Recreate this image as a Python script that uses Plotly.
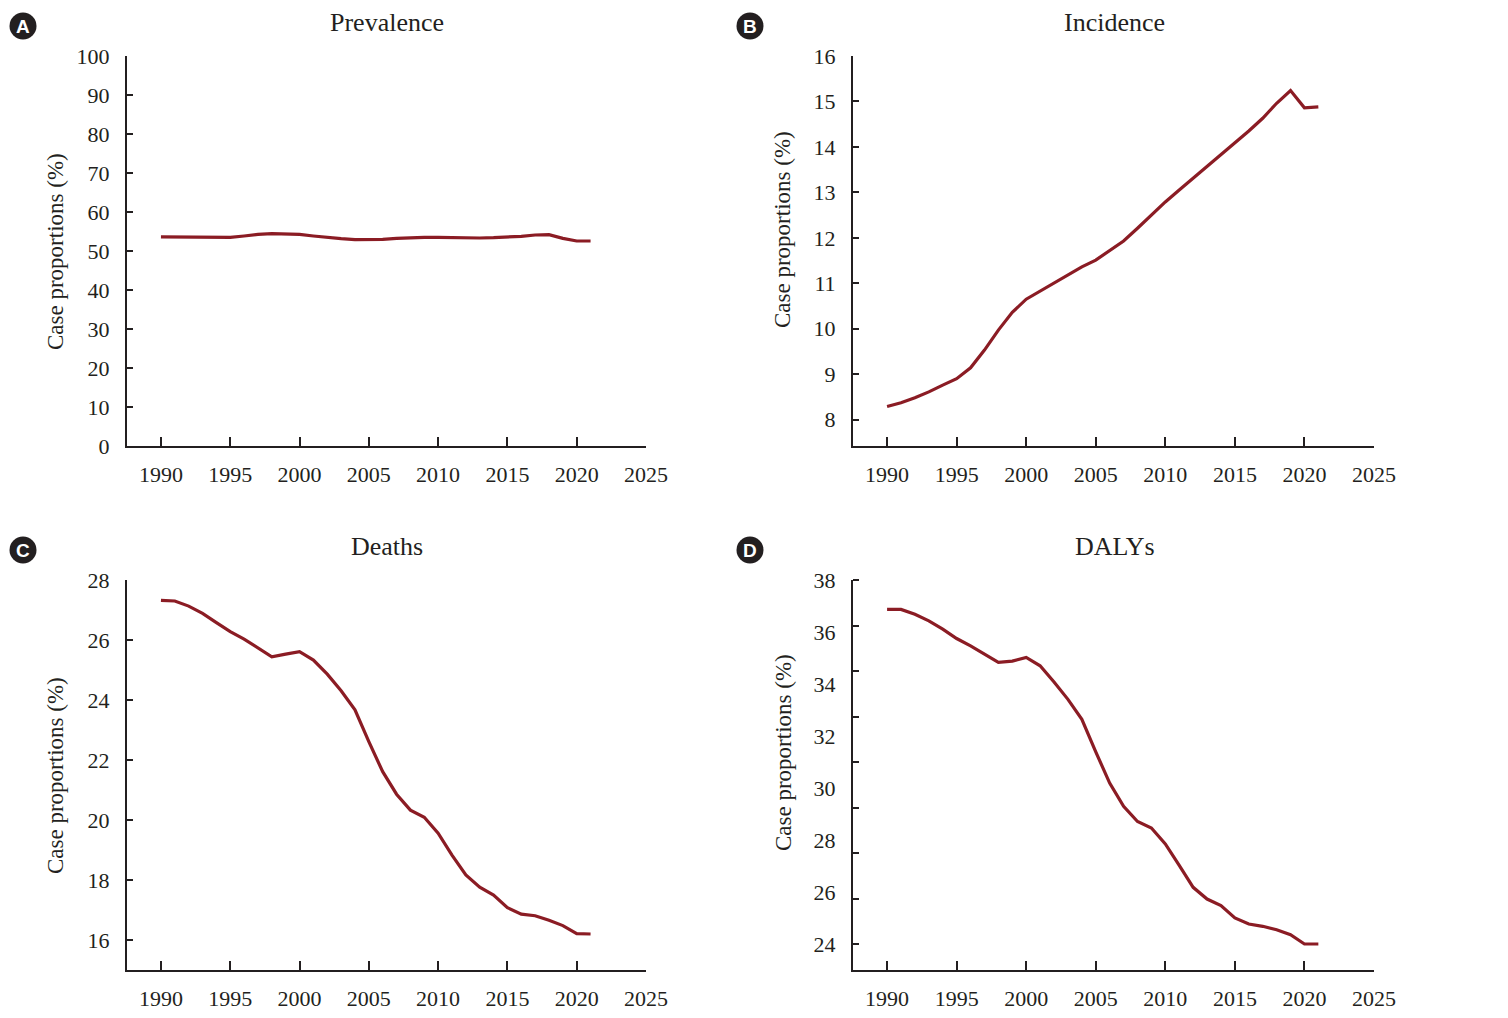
import plotly.graph_objects as go

# the page adds an 8 px body margin, so the figure is drawn 16 px smaller
OFF = 8
W, H = 1508 - 2 * OFF, 1018 - 2 * OFF

years = list(range(1990, 2022))

prevalence = [53.6, 53.6, 53.6, 53.5, 53.5, 53.5, 53.85, 54.27, 54.44, 54.44,
              54.27, 53.85, 53.42, 53.16, 52.91, 52.91, 52.99, 53.25, 53.42, 53.5,
              53.5, 53.42, 53.42, 53.33, 53.42, 53.5, 53.76, 54.1, 54.19, 53.25,
              52.56, 52.56]

incidence = [8.29, 8.37, 8.48, 8.61, 8.76, 8.90, 9.14, 9.53, 9.97, 10.36,
             10.65, 10.83, 11.01, 11.19, 11.36, 11.51, 11.71, 11.93, 12.21, 12.51,
             12.79, 13.05, 13.31, 13.56, 13.82, 14.08, 14.35, 14.63, 14.96, 15.24,
             14.86, 14.88]

deaths = [27.32, 27.30, 27.13, 26.89, 26.58, 26.28, 26.03, 25.72, 25.44, 25.53,
          25.61, 25.33, 24.86, 24.31, 23.67, 22.61, 21.61, 20.86, 20.33, 20.09,
          19.56, 18.83, 18.17, 17.76, 17.50, 17.08, 16.86, 16.81, 16.66, 16.48,
          16.21, 16.20]

dalys = [36.87, 36.87, 36.68, 36.43, 36.11, 35.75, 35.47, 35.14, 34.83, 34.88,
         35.02, 34.70, 34.08, 33.41, 32.64, 31.39, 30.19, 29.30, 28.71, 28.46,
         27.85, 27.02, 26.18, 25.73, 25.48, 25.00, 24.77, 24.68, 24.55, 24.36,
         24.00, 24.00]

titles = ["Prevalence", "Incidence", "Deaths", "DALYs"]
letters = ["A", "B", "C", "D"]
year_ticks = [1990, 1995, 2000, 2005, 2010, 2015, 2020, 2025]
y_ticks = [
    list(range(0, 101, 10)),
    list(range(8, 17)),
    list(range(16, 29, 2)),
    list(range(24, 39, 2)),
]
y_ranges = [[0, 100], [7.42, 16], [15, 28], [23, 38]]
series = [prevalence, incidence, deaths, dalys]

LINE = "#8b1c24"
INK = "#231f20"
SERIF = "Liberation Serif"


def px(x):
    return (x - OFF) / W


def py(y):
    return 1 - (y - OFF) / H


# plot boxes in screen pixels: left, right, top, bottom
boxes = [(127, 646, 56, 446), (853, 1374, 56, 446),
         (127, 646, 580, 970), (853, 1374, 580, 970)]
# y-title centres and panel-letter centres (screen pixels)
ytitle_pos = [(55, 252), (783, 229), (55, 776), (783, 752)]
letter_pos = [(23, 26), (750, 26), (23, 550), (750, 550)]

fig = go.Figure()
layout = dict(width=W, height=H,
              margin=dict(l=0, r=0, t=0, b=0, autoexpand=False),
              paper_bgcolor="white", plot_bgcolor="white", showlegend=False,
              font=dict(family=SERIF, color=INK))
annotations = []
shapes = []

for i in range(4):
    n = "" if i == 0 else str(i + 1)
    l, r, t, b = boxes[i]
    fig.add_trace(go.Scatter(x=years, y=series[i], mode="lines",
                             line=dict(color=LINE, width=3.2),
                             xaxis="x" + n, yaxis="y" + n))
    layout["xaxis" + n] = dict(
        domain=[px(l), px(r)], anchor="y" + n, range=[1987.55, 2025],
        tickvals=year_ticks, ticks="inside", ticklen=9, tickwidth=2,
        tickcolor=INK, showline=True, linecolor=INK, linewidth=2,
        showgrid=False, zeroline=False, ticklabelstandoff=8,
        tickfont=dict(family=SERIF, size=22, color=INK))
    yax = dict(
        domain=[py(b), py(t)], anchor="x" + n, range=y_ranges[i],
        tickvals=y_ticks[i], ticks="inside", ticklen=6, tickwidth=2,
        tickcolor=INK, showline=True, linecolor=INK, linewidth=2,
        showgrid=False, zeroline=False, ticklabelstandoff=11,
        tickfont=dict(family=SERIF, size=22, color=INK))
    if i == 3:
        # tick marks in the source do not line up with the labels
        yax["ticks"] = ""
        yax["minor"] = dict(ticks="inside", ticklen=6, tickwidth=2,
                            tickcolor=INK, tickmode="linear",
                            tick0=24, dtick=1.75, showgrid=False)
    layout["yaxis" + n] = yax

    annotations.append(dict(text=titles[i], x=px((l + r) / 2 + 1),
                            y=py(22 if i < 2 else 546), xref="paper",
                            yref="paper", xanchor="center", yanchor="middle",
                            showarrow=False,
                            font=dict(family=SERIF, size=26, color=INK)))
    tx, ty = ytitle_pos[i]
    annotations.append(dict(text="Case proportions (%)", x=px(tx), y=py(ty),
                            xref="paper", yref="paper", xanchor="center",
                            yanchor="middle", showarrow=False, textangle=-90,
                            font=dict(family=SERIF, size=23, color=INK)))
    cx, cy = letter_pos[i]
    shapes.append(dict(type="circle", xref="paper", yref="paper",
                       x0=px(cx - 13.5), x1=px(cx + 13.5),
                       y0=py(cy + 13.5), y1=py(cy - 13.5),
                       fillcolor=INK, line=dict(width=0)))
    annotations.append(dict(text="<b>" + letters[i] + "</b>", x=px(cx),
                            y=py(cy + 0.5), xref="paper", yref="paper",
                            xanchor="center", yanchor="middle",
                            showarrow=False,
                            font=dict(family="Liberation Sans", size=19,
                                      color="white")))

layout["annotations"] = annotations
layout["shapes"] = shapes
fig.update_layout(**layout)

fig.write_html("out.html")
